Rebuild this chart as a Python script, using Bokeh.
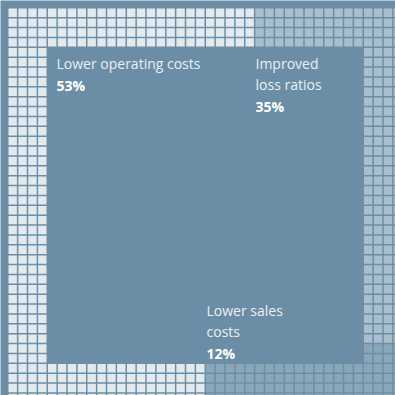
from bokeh.plotting import figure
from bokeh.models import ColumnDataSource, Range1d
from bokeh.core.properties import value
from bokeh.embed import file_html
from bokeh.resources import INLINE

# ---- data ----
categories = ["Lower operating costs", "Improved\nloss ratios", "Lower sales\ncosts"]
percents = [53, 35, 12]
cell_counts = [308, 180, 88]   # cells of the waffle border
colors = ["#e3eaee", "#a9bfcd", "#8aa6b9"]

BG = "#6b8ea6"
N = 40          # grid size
BAND = 4        # band width in cells
PITCH = 9.875
CELL = 8.4
X0 = 8.0

# path of band slices, clockwise, starting at the bottom middle going left
slices = []
for c in range(19, -1, -1):
    slices.append(("col", c, range(N - BAND, N)))
for r in range(N - BAND - 1, BAND - 1, -1):
    slices.append(("row", r, range(0, BAND)))
for c in range(0, N):
    slices.append(("col", c, range(0, BAND)))
for r in range(BAND, N - BAND):
    slices.append(("row", r, range(N - BAND, N)))
for c in range(N - 1, 19, -1):
    slices.append(("col", c, range(N - BAND, N)))

cells = []
for kind, idx, rng in slices:
    for k in rng:
        if kind == "col":
            cells.append((idx, k))
        else:
            cells.append((k, idx))

fill = []
for ci, n in enumerate(cell_counts):
    fill += [colors[ci]] * n

xs = [X0 + c * PITCH + CELL / 2 for c, r in cells]
ys = [X0 + r * PITCH + CELL / 2 for c, r in cells]
src = ColumnDataSource(dict(x=xs, y=ys, color=fill[:len(xs)]))

p = figure(width=395, height=395, output_backend="svg", toolbar_location=None,
           x_range=Range1d(0, 395), y_range=Range1d(395, 0), min_border=0)
p.axis.visible = False
p.grid.visible = False
p.outline_line_color = None
p.background_fill_color = BG
p.border_fill_color = BG

p.rect(x="x", y="y", width=CELL, height=CELL, fill_color="color", line_color=None, source=src)

# labels
label_pos = [(56, 63), (255, 63), (206, 310)]
LH = 21
tx, ty, tt = [], [], []
px, py, pt = [], [], []
for cat, pct, (lx, ly) in zip(categories, percents, label_pos):
    lines = cat.split("\n")
    for i, ln in enumerate(lines):
        tx.append(lx); ty.append(ly + i * LH); tt.append(ln)
    px.append(lx); py.append(ly + len(lines) * LH + 1); pt.append(f"{pct}%")

p.text(x=tx, y=ty, text=tt, text_font=value("Open Sans"), text_font_size="14px",
       text_color="#eaf0f4", text_baseline="middle", text_align="left")
p.text(x=px, y=py, text=pt, text_font=value("Open Sans"), text_font_size="14px",
       text_font_style="bold", text_color="#ffffff", text_baseline="middle", text_align="left")

open("out.html", "w").write(file_html(p, INLINE))
